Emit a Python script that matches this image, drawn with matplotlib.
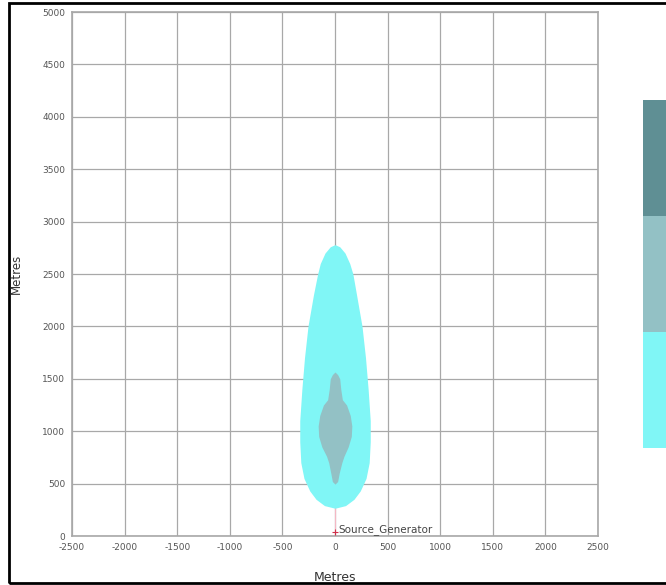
import numpy as np
import matplotlib
matplotlib.use("Agg")
import matplotlib.pyplot as plt
from matplotlib.patches import Rectangle

plt.rcParams["axes.unicode_minus"] = False

# outer contour (cyan): distance along plume (m) and half-widths (m)
outer_y = [265, 290, 350, 430, 550, 700, 900, 1100, 1400, 1700, 2000, 2300, 2500, 2600, 2700, 2760, 2780]
outer_left = [0, -100, -180, -240, -295, -325, -335, -335, -315, -290, -257, -205, -165, -140, -95, -45, 0]
outer_right = [0, 100, 180, 240, 295, 325, 335, 335, 315, 290, 257, 205, 170, 140, 95, 45, 0]

# inner contour (grey-teal)
inner_y = [495, 520, 600, 700, 760, 850, 950, 1050, 1150, 1250, 1300, 1400, 1500, 1540, 1565]
inner_left = [0, -25, -40, -60, -80, -125, -155, -160, -145, -110, -70, -55, -45, -25, 0]
inner_right = [0, 25, 40, 65, 85, 125, 155, 160, 145, 110, 70, 55, 45, 25, 0]

legend_colors = ["#80f6f6", "#93c1c5", "#5f8f94"]
xticks = [-2500, -2000, -1500, -1000, -500, 0, 500, 1000, 1500, 2000, 2500]
yticks = [0, 500, 1000, 1500, 2000, 2500, 3000, 3500, 4000, 4500, 5000]

fig = plt.figure(figsize=(6.66, 5.85), dpi=100)
ax = fig.add_axes([72/666, 49/585, 526/666, 524/585])

ax.fill_betweenx(outer_y, outer_left, outer_right, color=legend_colors[0], lw=0, zorder=2)
ax.fill_betweenx(inner_y, inner_left, inner_right, color=legend_colors[1], lw=0, zorder=3)
ax.plot([0, 0], [0, 270], color="#f4b8c4", lw=0.8, zorder=1.5)

ax.plot([0], [40], marker="+", color="#d0304a", ms=4, mew=0.8, zorder=4)
ax.text(30, 5, "Source_Generator", fontsize=7.5, color="#444444", va="bottom", ha="left", zorder=4)

ax.set_xlim(-2500, 2500)
ax.set_ylim(0, 5000)
ax.set_xticks(xticks)
ax.set_yticks(yticks)
ax.tick_params(labelsize=6.5, colors="#555555", length=0, pad=5)
ax.grid(True, color="#a8a8a8", lw=0.9, zorder=1)
ax.set_axisbelow(True)
for s in ax.spines.values():
    s.set_color("#a8a8a8")
    s.set_linewidth(1.2)
ax.set_xlabel("Metres", fontsize=9, color="#333333", labelpad=14)
ax.set_ylabel("Metres", fontsize=8.5, color="#333333", labelpad=14)

# legend colour bar
cax = fig.add_axes([643/666, 137/585, 0.06, 348/585])
cax.bar([0, 0, 0], [1, 1, 1], bottom=[0, 1, 2], width=1, color=legend_colors, align="edge")
cax.set_xlim(0, 1)
cax.set_ylim(0, 3)
cax.axis("off")

fig.add_artist(Rectangle((9/666, 2/585), 1.0, 580/585, transform=fig.transFigure,
                         fill=False, edgecolor="black", lw=2))

fig.savefig("out.png", dpi=100)
